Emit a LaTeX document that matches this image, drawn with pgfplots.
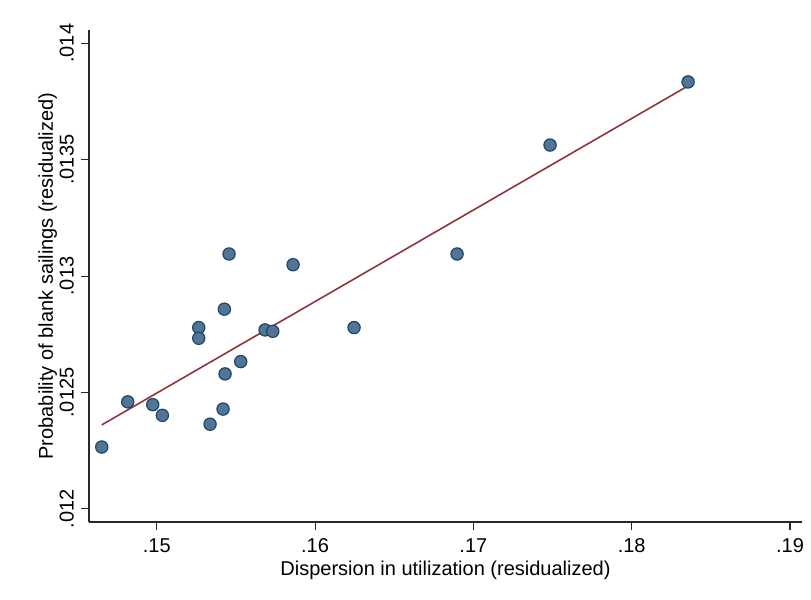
\documentclass[border=0pt]{standalone}
\usepackage{fontspec}
\setmainfont{Liberation Sans}
\usepackage{pgfplots}
\pgfplotsset{compat=1.18}
\definecolor{stnavy}{RGB}{26,71,111}
\definecolor{stfill}{RGB}{83,117,147}
\definecolor{stmaroon}{RGB}{144,53,59}
\definecolor{axgray}{RGB}{40,40,40}
\begin{document}
\begin{tikzpicture}
\path[use as bounding box] (-66.75pt,-58.5pt) rectangle (541.5pt,391.5pt);
\begin{axis}[
  at={(0,0)}, anchor=south west,
  scale only axis, width=534.75pt, height=369pt,
  xmin=0.14572, xmax=0.19076, ymin=0.011944, ymax=0.014057,
  axis x line*=bottom, axis y line*=left,
  axis line style={axgray, line width=0.8pt},
  scaled ticks=false,
  xtick={0.15,0.16,0.17,0.18,0.19}, xticklabels={.15,.16,.17,.18,.19},
  ytick={0.012,0.0125,0.013,0.0135,0.014}, yticklabels={.012,.0125,.013,.0135,.014},
  tick align=outside, major tick length=6pt,
  tick style={axgray, line width=0.8pt},
  /pgf/number format/assume math mode=true,
  every tick label/.append style={font=\fontsize{15}{18}\selectfont, inner sep=0pt},
  xticklabel style={anchor=base, yshift=-17pt},
  yticklabel style={rotate=90, anchor=base, yshift=5.6pt},
  xlabel={Dispersion in utilization (residualized)},
  ylabel={Probability of blank sailings (residualized)},
  label style={font=\fontsize{15}{18}\selectfont, inner sep=0pt},
  xlabel style={at={(axis description cs:0.5,0)}, anchor=base, yshift=-40.3pt},
  ylabel style={at={(axis description cs:0,0.5)}, anchor=base, yshift=27pt},
  clip=false,
]
\addplot[stmaroon, line width=1.2pt] coordinates {(0.146526,0.012361) (0.183563,0.013817)};
\addplot[only marks, mark=*, mark size=4.6pt, mark options={fill=stfill, draw=stnavy, line width=0.9pt}]
coordinates {
(0.146526,0.012266)
(0.148168,0.012460)
(0.149747,0.012448)
(0.150354,0.012402)
(0.152653,0.012779)
(0.152653,0.012733)
(0.153367,0.012364)
(0.154188,0.012429)
(0.154270,0.012858)
(0.154315,0.012580)
(0.154567,0.013095)
(0.155306,0.012633)
(0.156841,0.012769)
(0.157328,0.012763)
(0.158610,0.013049)
(0.162464,0.012779)
(0.168970,0.013095)
(0.174845,0.013563)
(0.183563,0.013834)
};
\end{axis}
\end{tikzpicture}
\end{document}
